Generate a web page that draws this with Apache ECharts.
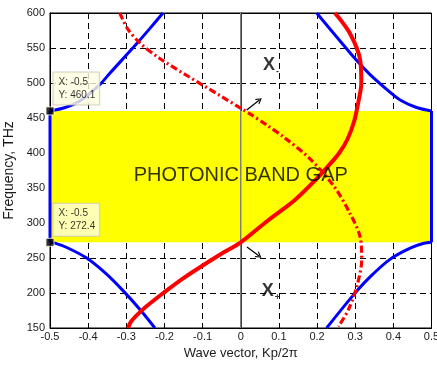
<!DOCTYPE html>
<html>
<head>
<meta charset="utf-8">
<script src="https://cdn.jsdelivr.net/npm/echarts@6/dist/echarts.min.js"></script>
<style>
html,body{margin:0;padding:0;background:#fff;}
#c{width:437px;height:367px;}
</style>
</head>
<body>
<div id="c"></div>
<script>
// ---- axis ticks ----
const xTicks = [-0.5,-0.4,-0.3,-0.2,-0.1,0,0.1,0.2,0.3,0.4,0.5];
const yTicks = [150,200,250,300,350,400,450,500,550,600];

// ---- band gap ----
const gapBottom = 272.4;
const gapTop = 460.1;

// ---- blue bands ----
const blueLowerLeft = [[-0.225,150],[-0.262,175],[-0.308,203],[-0.356,229],[-0.404,250],[-0.456,265],[-0.487,271.3],[-0.5,272.4]];
const blueLeftEdge = [[-0.5,272.4],[-0.5,460.1]];
const blueUpperLeft = [[-0.5,460.1],[-0.46,465],[-0.42,475],[-0.369,498],[-0.343,514],[-0.273,556],[-0.238,578],[-0.204,600]];
const blueLowerRight = [[0.225,150],[0.295,197],[0.339,223],[0.391,248],[0.444,264],[0.48,271],[0.5,272.4]];
const blueRightEdge = [[0.5,272.4],[0.5,460.1]];
const blueUpperRight = [[0.5,460.1],[0.461,465],[0.42,475],[0.391,487],[0.339,512],[0.304,532],[0.251,566],[0.199,600]];

// ---- red solid ----
const redSolid = [[-0.295,150],[-0.289,158],[-0.273,168],[-0.247,181],[-0.203,200],[-0.151,221],[-0.054,255],[0,272.4],[0.072,304],[0.142,333],[0.195,361],[0.232,383],[0.258,400],[0.28,420],[0.297,445],[0.308,472],[0.316,500],[0.313,533],[0.286,571],[0.247,600]];

// ---- red dash-dot ----
const redDashDot = [[-0.317,600],[-0.296,577],[-0.264,557],[-0.212,535],[-0.133,508],[-0.054,482],[-0.006,466],[0.024,456],[0.068,440],[0.112,423],[0.181,392],[0.245,352],[0.286,314],[0.313,280],[0.317,247],[0.304,209],[0.282,176],[0.256,152]];

// ---- zero line ----
const zeroLine = [[0,150],[0,600]];

// ---- data tips ----
const dataTips = [[-0.5,460.1],[-0.5,272.4]];

// ---- annotations ----
const gapText = 'PHOTONIC BAND GAP';
const gapTextPos = [0,368];
const xLabels = [{pos:[0.079,526], sub:'-'},{pos:[0.079,203], sub:'+'}];
const arrows = [[[0.0155,461.4],[0.049,475.7]],[[0.0164,265.7],[0.048,253]]];

const chevron = 'path://M0,10 L5,0 L10,10 L8.2,10 L5,3.6 L1.8,10 Z';
const axisColor = '#000';
const labelColor = '#1a1a1a';
const font = 'Arial, "Liberation Sans", sans-serif';

const chart = echarts.init(document.getElementById('c'), null, {renderer:'canvas'});

function lineSeries(data, color, width, type, z){
  return {type:'line', data:data, showSymbol:false, symbol:'none', smooth:0.3,
    lineStyle:{color:color, width:width, type:type||'solid', cap:'butt'}, z:z||3, silent:true, animation:false};
}

const series = [];
series.push({type:'line', data:[], z:1, silent:true, animation:false,
  markArea:{silent:true, itemStyle:{color:'#ffff00', opacity:1}, label:{show:false},
    data:[[{coord:[xTicks[0],gapBottom]},{coord:[xTicks[xTicks.length-1],gapTop]}]]}});
series.push(Object.assign(lineSeries(zeroLine,'#808080',1.5,'solid',2),{smooth:false}));
series.push(lineSeries(blueLowerLeft,'#0000ff',3));
series.push(Object.assign(lineSeries(blueLeftEdge,'#0000ff',3),{smooth:false}));
series.push(lineSeries(blueUpperLeft,'#0000ff',3));
series.push(lineSeries(blueLowerRight,'#0000ff',3));
series.push(Object.assign(lineSeries(blueRightEdge,'#0000ff',3),{smooth:false}));
series.push(lineSeries(blueUpperRight,'#0000ff',3));
series.push(lineSeries(redDashDot,'#ff0000',3.2,[7,3,2,3],4));
series.push(lineSeries(redSolid,'#ff0000',4,'solid',5));

arrows.forEach(a=>{
  series.push({type:'line', data:[], z:6, silent:true, animation:false,
    markLine:{silent:true, symbol:['none',chevron], symbolSize:[7,6], label:{show:false},
      lineStyle:{color:'#000', width:1.2, type:'solid'},
      data:[[{coord:a[0]},{coord:a[1]}]]}});
});

series.push({type:'scatter', data:[gapTextPos], symbolSize:0, z:7, silent:true, animation:false,
  label:{show:true, position:'inside', formatter:gapText, color:'#000', fontSize:20, fontFamily:font}});
series.push({type:'scatter', data:xLabels.map(d=>d.pos), symbolSize:0, z:7, silent:true, animation:false,
  label:{show:true, position:'inside', color:'#000', fontFamily:font,
    formatter:(p)=>'{x|X}{s|'+xLabels[p.dataIndex].sub+'}',
    rich:{x:{fontSize:18, fontWeight:'bold', fontFamily:font, color:'#000'},
          s:{fontSize:9, fontWeight:'bold', fontFamily:font, color:'#000', padding:[14,0,0,1]}}}});

series.push({type:'scatter', data:dataTips, symbol:'rect', symbolSize:8, z:9, silent:true, animation:false,
  itemStyle:{color:'#000', borderColor:'#ffffe0', borderWidth:1},
  label:{show:true, position:[8,-34], align:'left', verticalAlign:'top',
    formatter:(p)=>'X: '+p.value[0]+'\nY: '+p.value[1],
    backgroundColor:'#ffffe1', borderColor:'#c8c8b4', borderWidth:1,
    padding:[3,4,3,5], lineHeight:13, fontSize:10, fontFamily:font, color:'#000'}});

chart.setOption({
  animation:false,
  backgroundColor:'#fff',
  grid:{left:50, right:5.5, top:13, bottom:39, show:true, backgroundColor:'#fff', borderColor:'#000', borderWidth:1,
    containLabel:false, outerBoundsMode:'none'},
  xAxis:[{type:'value', min:xTicks[0], max:xTicks[xTicks.length-1], interval:0.1,
    name:'Wave vector, Kp/2π', nameLocation:'middle', nameGap:19,
    nameTextStyle:{fontSize:13, fontFamily:font, color:labelColor},
    axisLine:{show:true, onZero:false, lineStyle:{color:axisColor, width:1}},
    axisTick:{show:true, inside:true, length:4, lineStyle:{color:axisColor}},
    axisLabel:{fontSize:11, fontFamily:font, color:labelColor, margin:3},
    splitLine:{show:true, lineStyle:{color:'#000', width:1, type:[6,4]}}},
   {type:'value', position:'top', min:xTicks[0], max:xTicks[xTicks.length-1], interval:0.1,
    axisLine:{show:true, lineStyle:{color:axisColor}}, axisTick:{show:true, inside:true, length:4, lineStyle:{color:axisColor}},
    axisLabel:{show:false}, splitLine:{show:false}}],
  yAxis:[{type:'value', min:yTicks[0], max:yTicks[yTicks.length-1], interval:50,
    name:'Frequency, THz', nameLocation:'middle', nameGap:31,
    nameTextStyle:{fontSize:14, fontFamily:font, color:labelColor},
    axisLine:{show:true, onZero:false, lineStyle:{color:axisColor, width:1}},
    axisTick:{show:true, inside:true, length:4, lineStyle:{color:axisColor}},
    axisLabel:{fontSize:11, fontFamily:font, color:labelColor, margin:5},
    splitLine:{show:true, lineStyle:{color:'#000', width:1, type:[6,4]}}},
   {type:'value', position:'right', min:yTicks[0], max:yTicks[yTicks.length-1], interval:50,
    axisLine:{show:true, lineStyle:{color:axisColor}}, axisTick:{show:true, inside:true, length:4, lineStyle:{color:axisColor}},
    axisLabel:{show:false}, splitLine:{show:false}}],
  series:series
});
</script>
</body>
</html>
